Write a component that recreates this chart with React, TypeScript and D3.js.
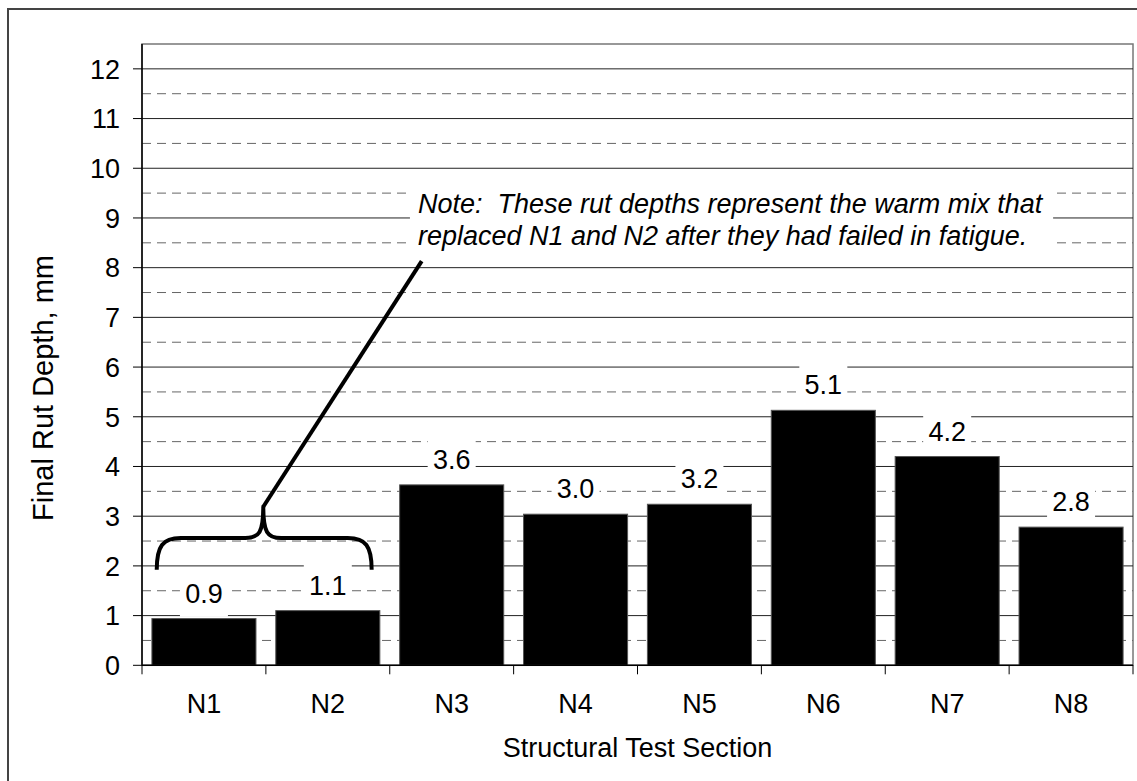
import React from "react";
import * as d3 from "d3";

// Final rut depth per structural test section
const sections = ["N1", "N2", "N3", "N4", "N5", "N6", "N7", "N8"];
const rutDepth = [0.94, 1.1, 3.63, 3.04, 3.24, 5.13, 4.2, 2.78];

// Value axis: labelled whole-mm ticks, dashed half-mm gridlines
const yMajorTicks = [0, 1, 2, 3, 4, 5, 6, 7, 8, 9, 10, 11, 12];
const yMinorTicks = [0.5, 1.5, 2.5, 3.5, 4.5, 5.5, 6.5, 7.5, 8.5, 9.5, 10.5, 11.5];

const noteLines = [
  "Note:  These rut depths represent the warm mix that",
  "replaced N1 and N2 after they had failed in fatigue.",
];

const xTitle = "Structural Test Section";
const yTitle = "Final Rut Depth, mm";

const W = 1137;
const H = 781;
const plot = { left: 142, right: 1133, top: 44, bottom: 665.3 };
const FONT = "'Liberation Sans', Arial, Helvetica, sans-serif";
const FS = 27;

export default function App() {
  const x = d3
    .scaleBand<string>()
    .domain(sections)
    .range([plot.left, plot.right])
    .paddingInner(0.16)
    .paddingOuter(0.08);
  // continuous position in "category units" for annotations
  const xu = d3.scaleLinear().domain([0, sections.length]).range([plot.left, plot.right]);
  const y = d3.scaleLinear().domain([0, 12.5]).range([plot.bottom, plot.top]);

  const boundaries = d3.range(sections.length + 1).map((i) => xu(i));

  // brace spanning N1 and N2, with a leader up to the note
  const bL = xu(0.119);
  const bM = xu(0.979);
  const bR = xu(1.854);
  const yEnd = y(1.92);
  const yH = y(2.56);
  const yTip = y(3.19);
  const r = 24;
  const brace = [
    `M${bL},${yEnd}`,
    `C${bL},${yH + 8} ${bL + 6},${yH} ${bL + r},${yH}`,
    `L${bM - r + 6},${yH}`,
    `C${bM - 4},${yH} ${bM},${yH - 6} ${bM},${yTip}`,
    `C${bM},${yH - 6} ${bM + 4},${yH} ${bM + r - 6},${yH}`,
    `L${bR - r},${yH}`,
    `C${bR - 6},${yH} ${bR},${yH + 8} ${bR},${yEnd}`,
  ].join(" ");
  const leaderEnd = { x: xu(2.258), y: y(8.13) };

  const noteBox = { x0: xu(2.163), x1: xu(7.355), y0: y(9.85), y1: y(8.1) };

  return (
    <svg
      width={W}
      height={H}
      style={{ position: "absolute", left: 0, top: 0, background: "#fff" }}
      fontFamily={FONT}
    >
      {/* chart frame */}
      <rect x={8} y={9} width={W + 20} height={H + 20} fill="#fff" stroke="#444" strokeWidth={2} />

      {/* plot area border */}
      <rect
        x={plot.left}
        y={plot.top}
        width={plot.right - plot.left}
        height={plot.bottom - plot.top}
        fill="#fff"
        stroke="#777"
        strokeWidth={1.5}
      />

      {/* gridlines */}
      {yMinorTicks.map((t) => (
        <line
          key={"m" + t}
          x1={plot.left}
          x2={plot.right}
          y1={y(t)}
          y2={y(t)}
          stroke="#666"
          strokeWidth={1}
          strokeDasharray="9,6"
        />
      ))}
      {yMajorTicks.slice(1).map((t) => (
        <line key={"g" + t} x1={plot.left} x2={plot.right} y1={y(t)} y2={y(t)} stroke="#222" strokeWidth={1} />
      ))}

      {/* white boxes behind the data labels */}
      {sections.map((s, i) => (
        <rect
          key={"lb" + s}
          x={x(s)! + x.bandwidth() / 2 - 24}
          y={y(rutDepth[i]) - 47}
          width={48}
          height={45}
          fill="#fff"
        />
      ))}

      {/* note box */}
      <rect
        x={noteBox.x0}
        y={noteBox.y0}
        width={noteBox.x1 - noteBox.x0}
        height={noteBox.y1 - noteBox.y0}
        fill="#fff"
      />
      {noteLines.map((line, i) => (
        <text
          key={"n" + i}
          x={noteBox.x0 + 8}
          y={noteBox.y0 + 37 + i * 32.5}
          fontSize={FS}
          fontStyle="italic"
          style={{ whiteSpace: "pre" }}
        >
          {line}
        </text>
      ))}

      {/* bars */}
      {sections.map((s, i) => (
        <rect
          key={"b" + s}
          x={x(s)!}
          y={y(rutDepth[i])}
          width={x.bandwidth()}
          height={y(0) - y(rutDepth[i])}
          fill="#000"
          stroke="#555"
          strokeWidth={1}
        />
      ))}

      {/* data labels */}
      {sections.map((s, i) => (
        <text
          key={"l" + s}
          x={x(s)! + x.bandwidth() / 2}
          y={y(rutDepth[i]) - 16}
          fontSize={FS}
          textAnchor="middle"
        >
          {rutDepth[i].toFixed(1)}
        </text>
      ))}

      {/* axes */}
      <line x1={plot.left} x2={plot.left} y1={plot.top} y2={plot.bottom} stroke="#000" strokeWidth={1.5} />
      <line x1={plot.left} x2={plot.right} y1={plot.bottom} y2={plot.bottom} stroke="#000" strokeWidth={1.5} />
      {yMajorTicks.map((t) => (
        <g key={"yt" + t}>
          <line x1={plot.left - 9} x2={plot.left} y1={y(t)} y2={y(t)} stroke="#000" strokeWidth={1} />
          <text x={plot.left - 22} y={y(t)} dy="0.36em" fontSize={FS} textAnchor="end">
            {t}
          </text>
        </g>
      ))}
      {boundaries.map((bx, i) => (
        <line key={"xt" + i} x1={bx} x2={bx} y1={plot.bottom} y2={plot.bottom + 9} stroke="#000" strokeWidth={1} />
      ))}
      {sections.map((s) => (
        <text key={"xl" + s} x={x(s)! + x.bandwidth() / 2} y={713} fontSize={FS} textAnchor="middle">
          {s}
        </text>
      ))}

      {/* axis titles */}
      <text x={(plot.left + plot.right) / 2} y={757} fontSize={FS} textAnchor="middle">
        {xTitle}
      </text>
      <text transform={`translate(53,388) rotate(-90)`} fontSize={29} textAnchor="middle">
        {yTitle}
      </text>

      {/* brace and leader */}
      <path d={brace} fill="none" stroke="#000" strokeWidth={4} strokeLinejoin="round" />
      <line x1={bM} y1={yTip} x2={leaderEnd.x} y2={leaderEnd.y} stroke="#000" strokeWidth={4} />
    </svg>
  );
}
